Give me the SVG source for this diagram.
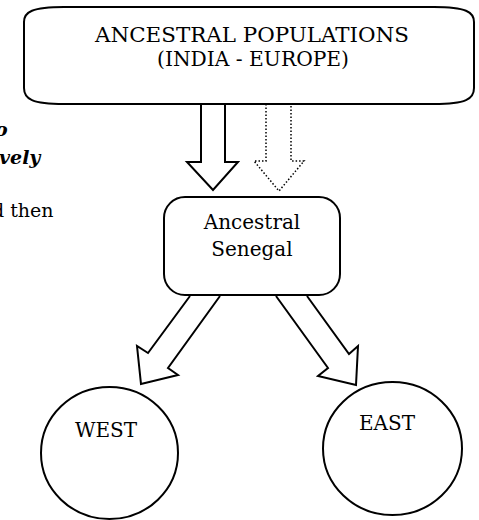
<svg xmlns="http://www.w3.org/2000/svg" width="479" height="520" viewBox="0 0 479 520">
<style>
.ln{fill:none;stroke:#000;stroke-width:2;stroke-linejoin:miter}
.dot{fill:none;stroke:#000;stroke-width:1.5;stroke-dasharray:1.5 2}
.shape{fill:#fff;stroke:#000;stroke-width:2}
.t{font-family:"DejaVu Serif","Liberation Serif",serif;font-size:20px;fill:#000}
.bi{font-family:"DejaVu Serif","Liberation Serif",serif;font-size:19px;font-weight:bold;font-style:italic;fill:#000}
.r{font-family:"DejaVu Serif","Liberation Serif",serif;font-size:19px;fill:#000}
</style>
<rect width="479" height="520" fill="#fff"/>
<g id="side-text">
<text class="bi" x="-5" y="136">o</text>
<text class="bi" x="-1" y="164">vely</text>
<text class="r" x="-8" y="217">d then</text>
</g>
<g id="connectors">
<polyline class="ln" points="201,104 201,162 187,162 213,190 238,162 225,162 225,104"/>
<polyline class="dot" points="266,104 266,161 254,161 279,191 304,161 291,161 291,104"/>
<polyline class="ln" points="190,296 148,353 137,346 141,384 178,375 168,368 220,296"/>
<polyline class="ln" points="276,296 328,368 318,376 356,385 358,346 349,354 307,296"/>
</g>
<g id="ancestral-populations">
<path class="shape" d="M64,7 L434,7 C466,7 474,12 474,22 L474,88 C474,99 466,104 434,104 L64,104 C32,104 24,99 24,88 L24,22 C24,12 32,7 64,7 Z"/>
<text class="t" x="252" y="42" text-anchor="middle" textLength="314" lengthAdjust="spacingAndGlyphs">ANCESTRAL POPULATIONS</text>
<text class="t" x="253" y="66" text-anchor="middle" textLength="192" lengthAdjust="spacingAndGlyphs">(INDIA - EUROPE)</text>
</g>
<g id="ancestral-senegal">
<rect class="shape" x="164" y="197" width="176" height="98" rx="21" ry="21"/>
<text class="t" x="252" y="229" text-anchor="middle">Ancestral</text>
<text class="t" x="252" y="256" text-anchor="middle">Senegal</text>
</g>
<g id="west">
<ellipse class="shape" cx="109.5" cy="453" rx="68.5" ry="66"/>
<text class="t" x="106" y="437" text-anchor="middle">WEST</text>
</g>
<g id="east">
<ellipse class="shape" cx="392.5" cy="448.5" rx="69.5" ry="66.5"/>
<text class="t" x="387" y="430" text-anchor="middle">EAST</text>
</g>
</svg>
